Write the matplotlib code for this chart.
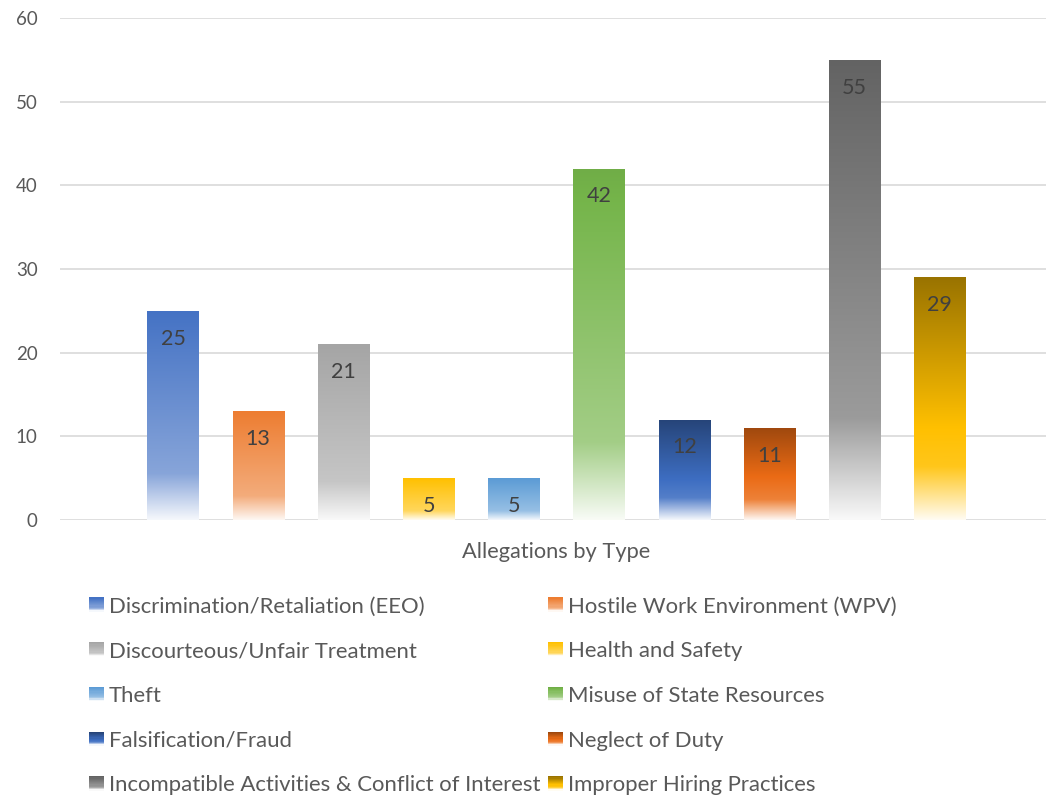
import numpy as np
import matplotlib
matplotlib.use('Agg')
import matplotlib.pyplot as plt
import colorsys
from matplotlib.colors import to_rgb
from matplotlib.legend_handler import HandlerBase
from matplotlib.patches import Rectangle

categories = ['Discrimination/Retaliation (EEO)', 'Hostile Work Environment (WPV)',
              'Discourteous/Unfair Treatment', 'Health and Safety', 'Theft',
              'Misuse of State Resources', 'Falsification/Fraud', 'Neglect of Duty',
              'Incompatible Activities & Conflict of Interest', 'Improper Hiring Practices']
values = [25, 13, 21, 5, 5, 42, 12, 11, 55, 29]
colors = ['#4472C4', '#ED7D31', '#A5A5A5', '#FFC000', '#5B9BD5',
          '#70AD47', '#264478', '#9E480E', '#636363', '#997300']
x_label = 'Allegations by Type'
yticks = [0, 10, 20, 30, 40, 50, 60]

plt.rcParams['font.family'] = ['Lato', 'DejaVu Sans']

W, H = 1046, 799
fig = plt.figure(figsize=(W / 100, H / 100), dpi=100)
ax = fig.add_axes([60 / W, 1 - 520 / H, (W - 60) / W, (520 - 18) / H])


def gradient(color, n=256):
    r, g, b = to_rgb(color)
    h, l, s = colorsys.rgb_to_hls(r, g, b)
    l1 = l + 0.36 * (1 - l)
    l2 = 0.975
    t = np.linspace(0, 1, n)
    L = np.where(t < 0.78, l + (l1 - l) * t / 0.78, l1 + (l2 - l1) * (t - 0.78) / 0.22)
    rgb = np.array([colorsys.hls_to_rgb(h, li, s) for li in L])
    return np.clip(rgb, 0, 1)


x = np.arange(len(values))
bars = ax.bar(x, values, width=0.6, color='none', edgecolor='none', zorder=3)
for bar, c, v in zip(bars, colors, values):
    x0 = bar.get_x()
    x1 = x0 + bar.get_width()
    img = gradient(c)[:, None, :]
    im = ax.imshow(img, extent=[x0, x1, 0, v], origin='upper', aspect='auto',
                   interpolation='bilinear', zorder=3)
    im.set_clip_path(bar)
    ax.annotate(str(v), xy=(bar.get_x() + bar.get_width() / 2, v),
                xytext=(0, -20), textcoords='offset points',
                ha='center', va='center', fontsize=15.5, color='#404040', zorder=4)

ax.set_xlim(-1.326, 10.246)
ax.set_ylim(0, 60)
ax.set_yticks(yticks)
ax.yaxis.grid(True, color='#D9D9D9', linewidth=1.2, zorder=0)
ax.set_axisbelow(True)
for sp in ax.spines.values():
    sp.set_visible(False)
ax.set_xticks([4.5])
ax.set_xticklabels([x_label])
ax.tick_params(axis='y', length=0, pad=16, labelsize=13.5, labelcolor='#595959')
ax.tick_params(axis='x', length=0, pad=16, labelsize=15.7, labelcolor='#595959')


class GradHandler(HandlerBase):
    def create_artists(self, legend, orig_handle, xdescent, ydescent, width, height, fontsize, trans):
        g = gradient(orig_handle._basecolor, n=12)
        arts = []
        n = len(g)
        for i, col in enumerate(g):
            y = -ydescent + height * (1 - (i + 1) / n)
            arts.append(Rectangle((-xdescent, y), width, height / n + 0.3, facecolor=col,
                                  edgecolor='none', transform=trans))
        return arts


def mk(c):
    p = Rectangle((0, 0), 1, 1, facecolor=c)
    p._basecolor = c
    return p


handles = [mk(c) for c in colors]
fs = 15.9
kw = dict(frameon=False, fontsize=fs, labelcolor='#595959', borderpad=0, borderaxespad=0,
          handlelength=0.68, handleheight=0.59, handletextpad=0.23, labelspacing=1.12,
          handler_map={Rectangle: GradHandler()}, loc='center left')
fig.legend([handles[i] for i in range(0, 10, 2)], [categories[i] for i in range(0, 10, 2)],
           bbox_to_anchor=(89 / W, 1 - 696 / H), **kw)
fig.legend([handles[i] for i in range(1, 10, 2)], [categories[i] for i in range(1, 10, 2)],
           bbox_to_anchor=(548 / W, 1 - 696 / H), **kw)

fig.savefig('out.png', dpi=100, facecolor='white')
